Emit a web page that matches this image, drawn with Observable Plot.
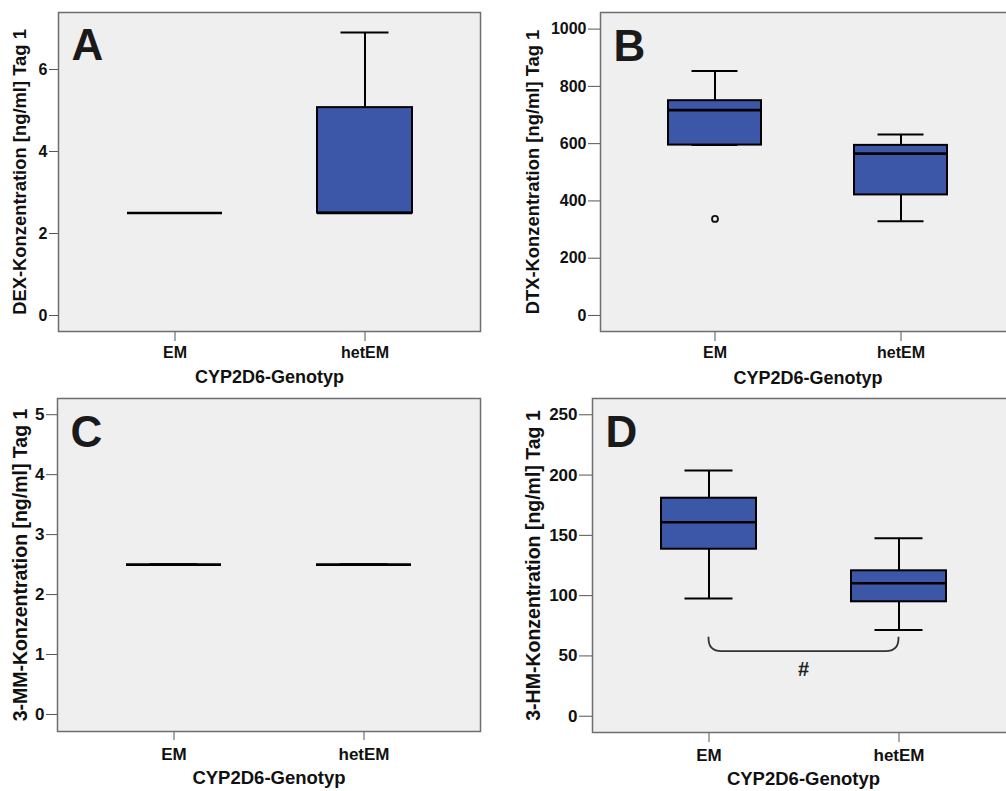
<!DOCTYPE html>
<html>
<head>
<meta charset="utf-8">
<script src="https://cdn.jsdelivr.net/npm/d3@7"></script>
<script src="https://cdn.jsdelivr.net/npm/@observablehq/plot@0.6"></script>
<style>
  html, body { margin: 0; padding: 0; background: #ffffff; overflow: hidden; }
  #figure { position: relative; width: 1006px; height: 791px; overflow: hidden; }
  #figure > svg { position: absolute; }
</style>
</head>
<body>
<div id="figure"></div>
<script>
// CYP2D6 genotype groups
const genotypes = ["EM", "hetEM"];

// DEX concentration, day 1 [ng/ml] — five-number summaries per genotype
const dexMin    = [2.5, 2.5];
const dexQ1     = [2.5, 2.5];
const dexMedian = [2.5, 2.5];
const dexQ3     = [2.5, 5.07];
const dexMax    = [2.5, 6.9];

// DTX concentration, day 1 [ng/ml]
const dtxMin    = [595, 329];
const dtxQ1     = [595, 421];
const dtxMedian = [717, 565];
const dtxQ3     = [750, 594];
const dtxMax    = [854, 632];
const dtxOutlierGenotype = ["EM"];
const dtxOutlierValue    = [337];

// 3-MM concentration, day 1 [ng/ml]
const mmMin    = [2.5, 2.5];
const mmQ1     = [2.5, 2.5];
const mmMedian = [2.5, 2.5];
const mmQ3     = [2.5, 2.5];
const mmMax    = [2.5, 2.5];

// 3-HM concentration, day 1 [ng/ml]
const hmMin    = [97.6, 71.6];
const hmQ1     = [138.5, 94.9];
const hmMedian = [160.9, 110.3];
const hmQ3     = [180.8, 120.6];
const hmMax    = [203.7, 147.6];

// significance bracket between the 3-HM groups (value levels)
const hmBracketTop = 65.5;
const hmBracketBottom = 53.6;
const hmBracketLabelLevel = 38.7;
const hmBracketLabel = "#";

// y-axis ticks per panel
const dexTicks = [0, 2, 4, 6];
const dtxTicks = [0, 200, 400, 600, 800, 1000];
const mmTicks  = [0, 1, 2, 3, 4, 5];
const hmTicks  = [0, 50, 100, 150, 200, 250];

const xTitle = "CYP2D6-Genotyp";

function summaryRows(mins, q1s, meds, q3s, maxs) {
  return genotypes.map((g, i) => ({
    genotype: g, min: mins[i], q1: q1s[i], median: meds[i], q3: q3s[i], max: maxs[i]
  }));
}

const BOX_FILL = "#3c57a8";
const FONT = "'Liberation Sans', Arial, Helvetica, sans-serif";

function boxPanel(cfg) {
  const rows = cfg.rows;
  const boxes = rows.filter(d => d.q3 > d.q1);
  const marks = [
    Plot.frame({fill: "#efefef", stroke: null}),
    Plot.ruleX(rows, {x: "genotype", y1: "q3", y2: "max", stroke: "#000", strokeWidth: 2}),
    Plot.ruleX(rows, {x: "genotype", y1: "min", y2: "q1", stroke: "#000", strokeWidth: 2}),
    Plot.tickY(rows, {x: "genotype", y: "max", inset: 23.5, stroke: "#000", strokeWidth: 2}),
    Plot.tickY(rows, {x: "genotype", y: "min", inset: 23.5, stroke: "#000", strokeWidth: 2}),
    Plot.barY(boxes, {x: "genotype", y1: "q1", y2: "q3", fill: BOX_FILL, stroke: "#000", strokeWidth: 2}),
    Plot.tickY(rows, {x: "genotype", y: "median", stroke: "#000", strokeWidth: 2.6}),
  ];
  if (cfg.outliers) {
    marks.push(Plot.dot(cfg.outliers, {x: "genotype", y: "value", r: 3, fill: "none", stroke: "#111", strokeWidth: 1.8}));
  }
  if (cfg.extra) marks.push(...cfg.extra);
  marks.push(
    Plot.axisY({ticks: cfg.yTicks, tickFormat: d3.format("d"), tickSize: cfg.yTickSize, tickPadding: cfg.yTickPadding,
      label: null, stroke: "#555", fill: "#111"}),
    Plot.axisX({tickSize: cfg.xTickSize, tickPadding: cfg.xTickPadding, label: null, stroke: "#555", fill: "#111"}),
    Plot.text([cfg.yTitle], {frameAnchor: "left", rotate: -90, dx: cfg.yTitleDx, text: d => d,
      textAnchor: "middle", lineAnchor: "middle", fontSize: cfg.yTitleFont, fontWeight: "bold", fill: "#111"}),
    Plot.text([xTitle], {frameAnchor: "bottom", dy: cfg.xTitleDy, text: d => d, textAnchor: "middle", lineAnchor: "middle",
      fontSize: cfg.titleFont, fontWeight: "bold", fill: "#111"}),
    Plot.text([cfg.letter], {frameAnchor: "top-left", dx: 13, dy: cfg.letterDy, text: d => d,
      textAnchor: "start", lineAnchor: "top", fontSize: 44, fontWeight: "bold", fill: "#1a1a1a"}),
    Plot.frame({stroke: "#6e6e6e", strokeWidth: 1.5})
  );
  const svg = Plot.plot({
    width: cfg.width, height: cfg.height,
    marginLeft: cfg.margin[3], marginTop: cfg.margin[0], marginRight: cfg.margin[1], marginBottom: cfg.margin[2],
    style: {fontFamily: FONT, fontWeight: "bold", fontSize: cfg.tickFont + "px", color: "#111",
      background: "transparent", overflow: "visible"},
    x: {type: "band", domain: genotypes, paddingInner: 0.5, paddingOuter: 0.36},
    y: {domain: cfg.yDomain},
    marks
  });
  svg.style.left = cfg.left + "px";
  svg.style.top = cfg.top + "px";
  document.getElementById("figure").appendChild(svg);
}

// A: DEX
boxPanel({
  rows: summaryRows(dexMin, dexQ1, dexMedian, dexQ3, dexMax),
  yDomain: [-0.39, 7.39], yTicks: dexTicks, yTitle: "DEX-Konzentration [ng/ml] Tag 1", letter: "A",
  left: 0, top: 0, width: 505, height: 395, margin: [12, 25, 64, 58],
  yTickSize: 9, yTickPadding: 2, xTickSize: 10, xTickPadding: 5,
  yTitleDx: -38, xTitleDy: 46, letterDy: 16, tickFont: 16, titleFont: 18, yTitleFont: 18.4
});

// B: DTX
boxPanel({
  rows: summaryRows(dtxMin, dtxQ1, dtxMedian, dtxQ3, dtxMax),
  outliers: dtxOutlierGenotype.map((g, i) => ({genotype: g, value: dtxOutlierValue[i]})),
  yDomain: [-56, 1058], yTicks: dtxTicks, yTitle: "DTX-Konzentration [ng/ml] Tag 1", letter: "B",
  left: 500, top: 0, width: 530, height: 395, margin: [12, 15, 64, 100],
  yTickSize: 12, yTickPadding: 2, xTickSize: 10, xTickPadding: 5,
  yTitleDx: -67, xTitleDy: 47, letterDy: 17, tickFont: 16, titleFont: 18, yTitleFont: 18.4
});

// C: 3-MM
boxPanel({
  rows: summaryRows(mmMin, mmQ1, mmMedian, mmQ3, mmMax),
  yDomain: [-0.284, 5.27], yTicks: mmTicks, yTitle: "3-MM-Konzentration [ng/ml] Tag 1", letter: "C",
  left: 0, top: 397, width: 505, height: 394, margin: [1, 25, 60, 57],
  yTickSize: 11, yTickPadding: 2, xTickSize: 9, xTickPadding: 7,
  yTitleDx: -37, xTitleDy: 47, letterDy: 17, tickFont: 17, titleFont: 18.5, yTitleFont: 19.5
});

// D: 3-HM, with significance bracket between the two genotypes
const hmBracket = (index, scales) => {
  const {x, y} = scales;
  const bw = typeof x.bandwidth === "function" ? x.bandwidth() : (x.bandwidth || 0);
  const x1 = x(genotypes[0]) + bw / 2;
  const x2 = x(genotypes[1]) + bw / 2;
  const yt = y(hmBracketTop), yb = y(hmBracketBottom);
  const r = Math.min(13, (yb - yt) * 0.9);
  const g = d3.create("svg:g");
  g.append("path")
    .attr("d", `M${x1},${yt}V${yb - r}Q${x1},${yb} ${x1 + r},${yb}H${x2 - r}Q${x2},${yb} ${x2},${yb - r}V${yt}`)
    .attr("fill", "none").attr("stroke", "#333").attr("stroke-width", 1.8);
  g.append("text")
    .attr("x", (x1 + x2) / 2).attr("y", y(hmBracketLabelLevel))
    .attr("dy", "0.35em").attr("text-anchor", "middle")
    .attr("font-size", 20).attr("font-weight", "bold").attr("fill", "#222")
    .text(hmBracketLabel);
  return g.node();
};

boxPanel({
  rows: summaryRows(hmMin, hmQ1, hmMedian, hmQ3, hmMax),
  extra: [hmBracket],
  yDomain: [-13.5, 263.5], yTicks: hmTicks, yTitle: "3-HM-Konzentration [ng/ml] Tag 1", letter: "D",
  left: 500, top: 397, width: 530, height: 394, margin: [1, 16, 59, 92],
  yTickSize: 13, yTickPadding: 2, xTickSize: 10, xTickPadding: 6,
  yTitleDx: -59, xTitleDy: 47, letterDy: 17, tickFont: 17, titleFont: 18.5, yTitleFont: 19.5
});
</script>
</body>
</html>
